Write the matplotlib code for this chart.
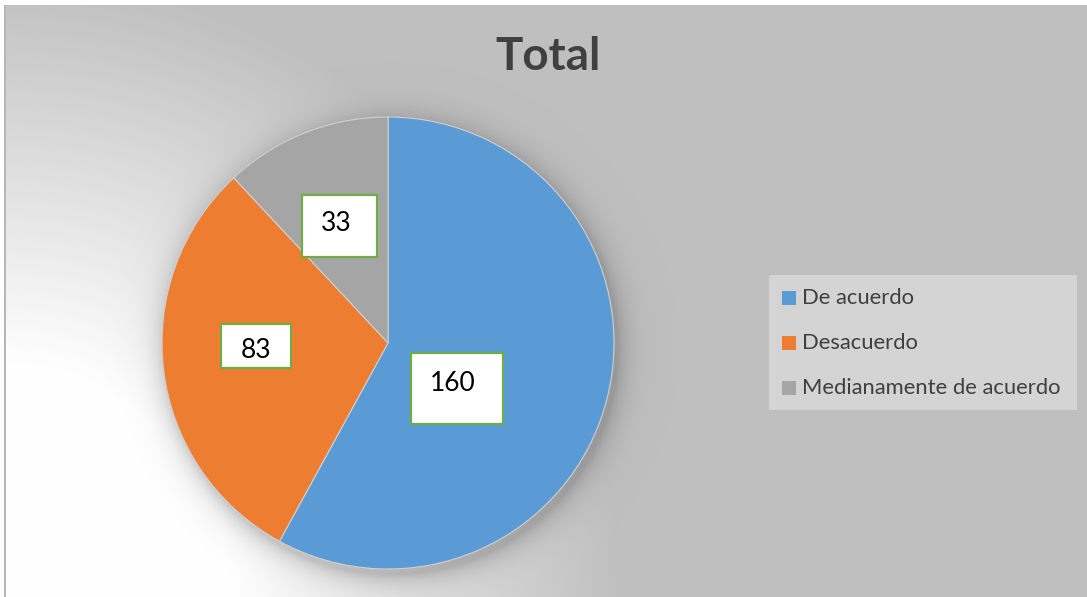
import numpy as np
import matplotlib
matplotlib.use("Agg")
import matplotlib.pyplot as plt
from matplotlib.patches import Rectangle

# Data
categories = ['De acuerdo', 'Desacuerdo', 'Medianamente de acuerdo']
values = [160, 83, 33]
colors = ['#5b9bd5', '#ed7d31', '#a5a5a5']

W, H = 1087, 597
plt.rcParams['font.family'] = ['Lato', 'DejaVu Sans']

fig = plt.figure(figsize=(W / 100, H / 100), dpi=100)

# Background: chart area with radial gradient and soft pie shadow
cx, cy, R = 388, 343, 226
yy, xx = np.mgrid[0:H, 0:W].astype(float)
d = np.hypot(xx - 0, yy - H)
t = np.clip((d - 230) / (620 - 230), 0, 1)
bg = 1 - t * (1 - 0.75)
r = np.hypot(xx - (cx + 3), yy - (cy + 5))
shadow = 0.2 * np.exp(-np.clip(r - R, 0, None) / 12)
bg = bg * (1 - shadow)
bg[:5, :] = 1.0
bg[:, :4] = 1.0
bg[5:, 4:6] = 0.72
img = np.dstack([bg, bg, bg])

bg_ax = fig.add_axes([0, 0, 1, 1])
bg_ax.imshow(img, extent=[0, W, H, 0], aspect='auto', interpolation='bilinear')
bg_ax.set_xlim(0, W)
bg_ax.set_ylim(H, 0)
bg_ax.axis('off')

# Title
bg_ax.text(548, 57, 'Total', ha='center', va='center', fontsize=33,
           fontweight='bold', color='#404040')

# Pie
ax = fig.add_axes([(cx - R) / W, (H - cy - R) / H, 2 * R / W, 2 * R / H])
wedges, _ = ax.pie(values, colors=colors, startangle=90, counterclock=False,
                   radius=1, wedgeprops=dict(edgecolor='#d0d0d0', linewidth=0.8))
ax.set_xlim(-1, 1)
ax.set_ylim(-1, 1)
ax.axis('off')

# Data labels (white boxes with green border)
label_r = [0.366, 0.584, 0.56]
label_shift = [-19, -5.9, 1.0]
box_px = [(92, 71), (70, 44), (75, 62)]
text_off = [(-4, 5), (0, -4.5), (-3, 3)]
for w, v, lr, sh, (bw, bh), (tx, ty) in zip(wedges, values, label_r, label_shift, box_px, text_off):
    mid = np.deg2rad((w.theta1 + w.theta2) / 2 + sh)
    x, y = lr * np.cos(mid), lr * np.sin(mid)
    bw_d, bh_d = bw / R, bh / R
    ax.add_patch(Rectangle((x - bw_d / 2, y - bh_d / 2), bw_d, bh_d,
                           facecolor='white', edgecolor='#70ad47', linewidth=1.6, zorder=5))
    ax.text(x + tx / R, y + ty / R, str(v), ha='center', va='center',
            fontsize=19, color='black', zorder=6)

# Legend (drawn by hand to match the box)
bg_ax.add_patch(Rectangle((769, 275), 308, 135, facecolor='#d4d4d4', edgecolor='none'))
row_y = [297.5, 343, 387.5]
for name, col, ry in zip(categories, colors, row_y):
    bg_ax.add_patch(Rectangle((782, ry - 7), 14, 14, facecolor=col, edgecolor='none'))
    bg_ax.text(802, ry, name, ha='left', va='center', fontsize=15.8, color='#404040')

fig.savefig('out.png', dpi=100)
